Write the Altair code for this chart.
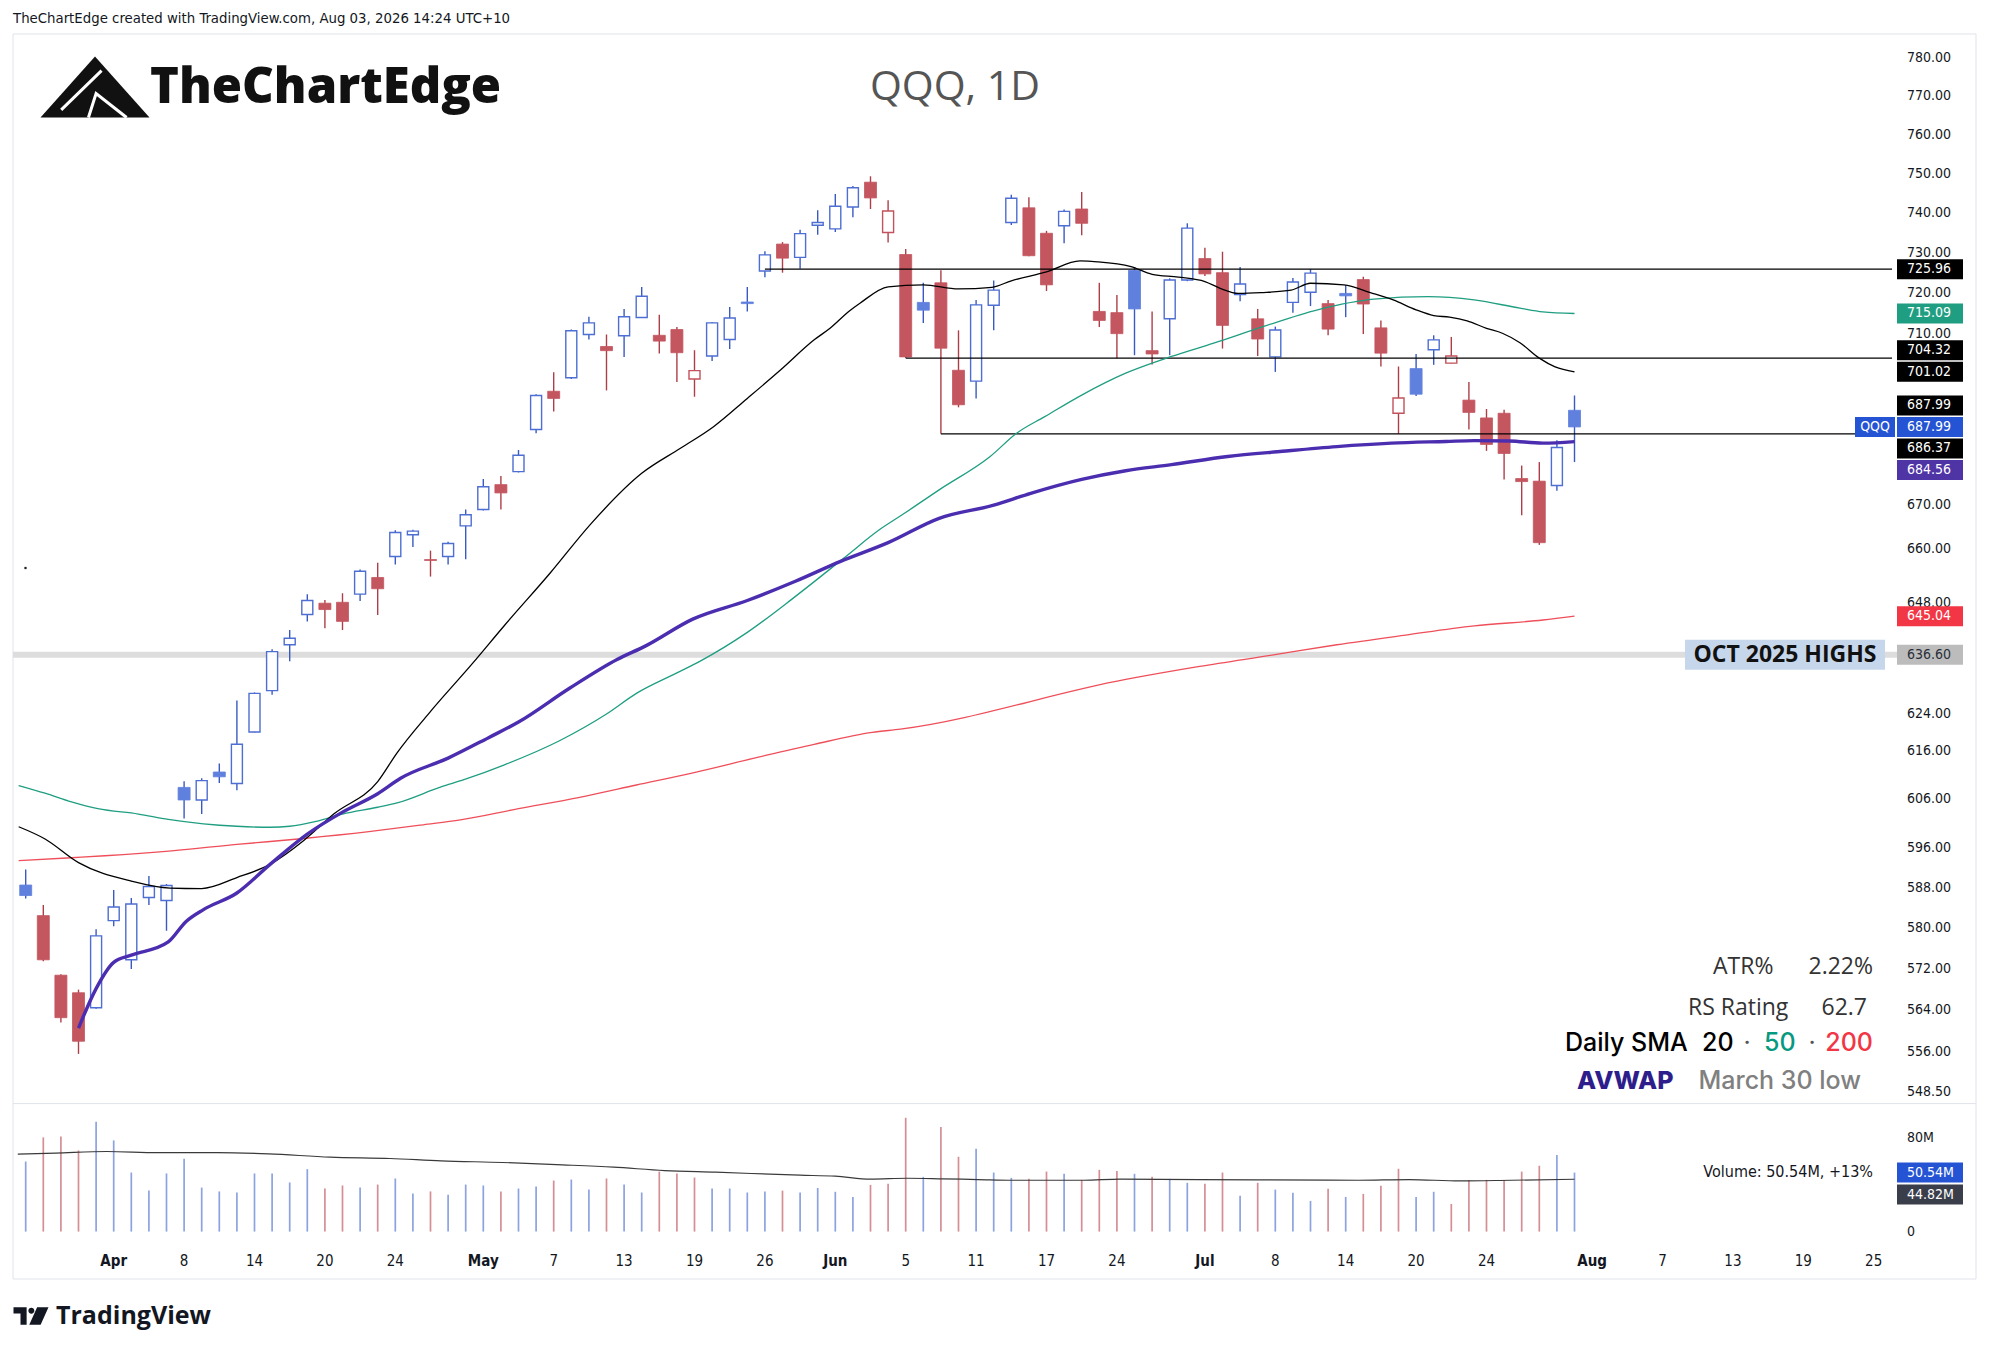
import math
import altair as alt
import pandas as pd

# ---------------------------------------------------------------- data
# daily bars, index 0 = Mar 25 2026 ... 88 = Jul 31 2026 (trading days)
opens = [588.6, 582.5, 570.8, 567.4, 564.5, 581.5, 573.8, 586.1, 585.5, 608.5,
         605.9, 611.7, 609.3, 620.1, 628.9, 638.8, 645.4, 647.9, 648.1, 649.9,
         653.6, 658.3, 663.2, 657.6, 658.3, 665.2, 668.9, 674.6, 677.6, 687.4,
         696.4, 699.6, 710.0, 707.1, 709.7, 714.1, 709.8, 711.2, 699.3, 704.8,
         708.8, 717.9, 725.5, 732.2, 728.9, 736.9, 736.0, 741.5, 747.8, 735.1,
         729.6, 717.8, 722.6, 701.4, 698.8, 717.1, 737.6, 741.3, 734.9, 736.8,
         741.0, 715.6, 715.3, 725.7, 706.1, 713.8, 723.3, 728.6, 725.1, 719.7,
         713.8, 704.6, 717.8, 720.3, 717.5, 720.0, 723.4, 711.6, 691.2, 701.8,
         706.3, 703.1, 694.3, 690.1, 691.2, 676.0, 675.4, 674.4, 691.9]
highs = [591.7, 584.6, 571.0, 568.0, 579.8, 587.6, 586.0, 590.4, 588.8, 609.8,
         610.4, 613.5, 626.8, 628.5, 637.8, 642.0, 649.9, 648.6, 650.1, 655.4,
         656.9, 664.2, 664.3, 659.6, 661.6, 668.9, 675.9, 676.6, 682.6, 695.7,
         700.9, 711.2, 714.3, 710.0, 716.2, 721.6, 714.8, 711.8, 706.2, 713.0,
         716.7, 721.6, 730.4, 732.7, 735.8, 740.7, 744.8, 746.8, 749.3, 743.2,
         731.0, 722.6, 725.7, 711.0, 718.4, 723.2, 744.6, 744.0, 735.5, 740.9,
         745.3, 722.6, 719.6, 726.5, 715.6, 723.7, 737.4, 731.3, 730.3, 726.5,
         716.2, 711.9, 723.8, 726.0, 718.4, 722.0, 724.1, 713.4, 702.3, 705.3,
         709.8, 709.4, 698.6, 692.2, 692.0, 679.0, 679.8, 684.9, 695.4]
lows = [585.9, 573.5, 561.7, 555.7, 564.3, 580.4, 572.0, 584.6, 579.5, 602.1,
        603.0, 609.4, 607.9, 620.0, 628.0, 635.2, 643.9, 642.4, 642.0, 648.4,
        645.3, 656.5, 660.4, 653.8, 656.5, 657.7, 668.7, 668.9, 677.4, 686.5,
        691.6, 699.3, 708.8, 696.6, 704.6, 714.0, 705.4, 698.6, 695.1, 703.6,
        706.5, 715.6, 724.0, 725.1, 726.1, 734.5, 735.2, 738.9, 741.0, 732.6,
        704.32, 712.8, 686.37, 692.6, 694.7, 711.0, 737.0, 729.2, 720.6, 732.4,
        734.4, 711.8, 704.3, 705.0, 702.8, 705.0, 723.0, 724.3, 706.6, 718.1,
        704.8, 701.0, 715.3, 716.9, 709.8, 714.2, 710.1, 702.3, 686.4, 695.3,
        702.7, 703.0, 687.4, 682.4, 675.8, 667.6, 660.9, 673.2, 679.8]
closes = [586.5, 573.8, 562.6, 558.1, 578.5, 584.2, 584.8, 588.3, 588.5, 605.9,
          609.9, 610.7, 617.5, 628.3, 637.3, 640.2, 648.5, 646.5, 643.9, 655.0,
          651.1, 663.7, 664.0, 657.4, 661.2, 667.7, 674.1, 672.7, 681.4, 695.4,
          694.7, 710.9, 712.8, 706.1, 714.3, 719.3, 708.4, 705.6, 701.3, 712.8,
          714.0, 717.5, 729.5, 728.7, 734.8, 737.6, 741.7, 746.4, 743.8, 740.5,
          704.6, 715.9, 706.7, 693.2, 717.2, 720.8, 743.7, 729.3, 722.1, 740.4,
          737.4, 713.4, 710.2, 716.2, 705.3, 723.3, 736.2, 724.8, 712.2, 722.3,
          708.9, 711.1, 722.8, 725.0, 711.3, 719.4, 717.4, 705.5, 694.8, 695.7,
          708.7, 704.8, 691.4, 683.9, 681.8, 675.3, 661.4, 683.2, 687.99]
close_before_first = 584.0
volumes = [60.0, 80.7, 81.4, 69.5, 94.1, 78.1, 50.6, 35.1, 49.8, 62.3,
           37.7, 34.4, 33.5, 49.8, 49.8, 42.1, 53.5, 36.9, 39.5, 37.7,
           40.3, 45.5, 32.6, 34.4, 31.5, 40.3, 39.5, 34.4, 36.9, 38.6,
           43.7, 44.6, 36.0, 45.5, 40.3, 33.5, 51.4, 49.8, 46.3, 36.9,
           36.9, 33.5, 34.4, 35.1, 33.5, 37.4, 34.1, 29.7, 40.0, 40.9,
           97.5, 46.9, 89.7, 64.1, 70.9, 50.6, 46.0, 45.2, 51.4, 49.5,
           44.3, 52.9, 52.0, 49.5, 46.9, 45.2, 41.8, 40.9, 50.6, 30.6,
           41.8, 36.0, 33.2, 26.3, 36.6, 29.7, 32.3, 39.2, 53.8, 29.7,
           34.1, 23.7, 44.3, 44.3, 44.3, 51.4, 56.4, 65.7, 50.54]

sma20_idx = [-0.4, 1.1, 3.0, 6.0, 8.2, 10.0, 12.0, 13.9, 15.8, 17.5, 20.0, 21.1, 22.9,
             25.4, 27.2, 29.8, 32.1, 35.0, 37.2, 39.1, 41.0, 42.9, 44.8, 45.7, 46.8,
             47.4, 49.0, 51.0, 53.0, 54.9, 56.0, 58.0, 59.9, 60.9, 62.8, 64.0, 65.5,
             67.0, 67.9, 68.9, 70.2, 71.9, 73.0, 74.9, 76.4, 77.7, 79.0, 80.0, 80.9,
             81.9, 83.0, 83.9, 84.9, 86.0, 86.9, 88.0]
sma20_val = [600.4, 597.9, 593.1, 589.4, 588.0, 587.9, 590.1, 592.8, 597.6, 603.0, 609.7,
             615.7, 624.0, 634.8, 643.0, 654.6, 665.6, 677.2, 683.0, 688.1, 694.7, 701.5,
             708.7, 711.5, 715.7, 717.6, 721.6, 722.1, 721.1, 721.5, 723.1, 725.3, 728.0,
             727.8, 726.6, 724.7, 724.0, 722.9, 721.2, 720.0, 720.2, 720.8, 722.5, 722.1,
             720.2, 718.4, 716.0, 714.6, 714.2, 713.3, 711.5, 710.3, 708.0, 704.3, 702.2,
             701.02]
sma50_idx = [-0.4, 1.1, 2.6, 4.1, 6.4, 8.1, 10.1, 12.0, 13.9, 15.0, 16.5, 18.0, 20.0,
             21.1, 23.6, 24.9, 27.2, 30.3, 33.0, 34.7, 37.0, 38.3, 41.0, 43.7, 46.6,
             48.5, 49.8, 51.9, 54.8, 56.3, 57.9, 60.0, 62.5, 65.1, 67.5, 70.3, 73.4,
             76.6, 79.7, 82.3, 84.9, 86.2, 88.0]
sma50_val = [608.9, 607.3, 605.5, 604.1, 603.0, 601.9, 601.0, 600.5, 600.3, 600.5, 601.5,
             603.0, 604.4, 605.3, 608.6, 610.1, 613.2, 618.2, 623.9, 628.3, 632.7, 635.2,
             641.5, 649.3, 658.3, 664.3, 667.7, 673.4, 681.1, 686.5, 690.4, 695.5, 700.7,
             704.7, 707.9, 711.9, 716.0, 718.6, 719.2, 718.4, 716.4, 715.5, 715.09]
sma200_idx = [-0.4, 2.6, 4.5, 8.3, 12.0, 15.8, 19.5, 22.6, 24.7, 28.0, 31.4, 34.7, 38.1,
              41.4, 44.8, 48.1, 49.7, 62.5, 66.7, 70.9, 74.5, 78.4, 82.3, 86.2, 88.0]
sma200_val = [593.5, 594.1, 594.5, 595.5, 596.8, 598.0, 599.4, 600.8, 601.8, 604.1, 606.4,
              609.0, 611.7, 614.6, 617.5, 620.0, 620.7, 631.3, 634.1, 636.6, 638.8, 640.9,
              642.9, 644.2, 645.04]
avwap_idx = [3.0, 4.0, 5.0, 6.0, 8.1, 9.1, 10.1, 12.0, 13.9, 16.0, 18.0, 20.0, 21.3, 24.0,
             26.3, 28.0, 30.9, 33.6, 35.2, 37.9, 41.0, 43.7, 46.3, 49.0, 51.9, 55.0, 57.1,
             60.0, 62.5, 65.1, 68.3, 71.4, 74.5, 77.6, 80.7, 82.3, 84.3, 86.2, 88.0]
avwap_val = [560.6, 568.2, 573.3, 574.7, 577.3, 581.3, 583.7, 587.0, 592.8, 598.9, 603.4,
             607.2, 610.4, 614.6, 618.9, 622.2, 629.4, 635.6, 638.5, 644.4, 648.5, 652.7,
             657.2, 661.4, 666.9, 669.9, 672.6, 675.8, 677.8, 679.2, 681.1, 682.3, 683.4,
             684.2, 684.6, 684.8, 684.7, 684.2, 684.56]
volma_idx = [-0.45, 1.7, 4.6, 7.5, 10.9, 13.8, 17.3, 20.7, 23.6, 27.1, 30.5, 33.4, 36.3,
             39.2, 44.0, 46.0, 48.0, 50.1, 52.1, 54.1, 56.1, 60.1, 62.2, 69.9, 75.7, 78.6,
             81.5, 84.4, 88.0]
volma_val = [66.3, 67.2, 68.6, 67.7, 67.7, 66.6, 63.8, 62.6, 60.6, 59.2, 57.2, 55.2, 52.3,
             50.9, 48.3, 47.5, 44.9, 45.7, 45.2, 44.6, 44.0, 44.0, 44.9, 44.3, 44.0, 44.6,
             43.4, 44.0, 44.82]

ray_levels = [725.96, 704.32, 686.37]
ray_start = [42, 50, 52]
oct_high = 636.60

x_tick_idx = [5, 9, 13, 17, 21, 26, 30, 34, 38, 42, 46, 50, 54, 58, 62, 67, 71, 75, 79, 83,
              89, 93, 97, 101, 105]
x_tick_text = ["Apr", "8", "14", "20", "24", "May", "7", "13", "19", "26", "Jun", "5", "11",
               "17", "24", "Jul", "8", "14", "20", "24", "Aug", "7", "13", "19", "25"]
months = ["Apr", "May", "Jun", "Jul", "Aug"]
price_ticks = [780, 770, 760, 750, 740, 730, 720, 710, 670, 660, 648, 624, 616, 606, 596,
               588, 580, 572, 564, 556, 548.5]

badge_values = [725.96, 715.09, 704.32, 701.02, 687.99, 687.99, 686.37, 684.56, 645.04, 636.60]
badge_kinds = ["level", "sma50", "level", "sma20", "last", "price", "level", "avwap",
               "sma200", "oct"]
vol_badge_values = [50.54, 44.82]
vol_badge_text = ["50.54M", "44.82M"]

# ---------------------------------------------------------------- styles
AXF = "DejaVu Sans Condensed, Liberation Sans Narrow, DejaVu Sans, sans-serif"
TXT = "#131722"
BLUE_FILL, BLUE_LINE, BLUE_WICK = "#6080de", "#4d6ed2", "#3a5ac2"
RED_FILL, RED_LINE, RED_WICK = "#c4565f", "#c2525b", "#ae3f48"
VOL_BLUE, VOL_RED = "#8ca3e0", "#d48e94"
BADGE_BG = {"level": "#000000", "sma50": "#1f9e82", "sma20": "#000000", "last": "#000000",
            "price": "#2453d4", "avwap": "#4f34a6", "sma200": "#f23645", "oct": "#bcbcbc"}
BADGE_FG = {"oct": "#2a2e39"}

W, H = 1975, 1337
PX0, PX_STEP = 12.7, 17.70
Y_TOP, Y_BOT = 50.4, 1084.2
Y_DOM = [548.5, 780.0]
V0, V80 = 1223.6, 1130.2
RIGHT = 1884

xs = alt.Scale(domain=[0, 100], range=[PX0, PX0 + 100 * PX_STEP], nice=False, zero=False)
ys = alt.Scale(type="log", domain=Y_DOM, range=[Y_BOT, Y_TOP], nice=False)
vs = alt.Scale(domain=[0, 80], range=[V0, V80], nice=False, zero=False)

one = pd.DataFrame({"a": [0]})


def txt(s, x, y, size, color=TXT, weight="normal", align="left", font=AXF):
    return alt.Chart(one).mark_text(text=s, fontSize=size, color=color, fontWeight=weight,
                                    align=align, baseline="middle", font=font).encode(
        x=alt.value(x), y=alt.value(y))


def cond(a, b):
    return alt.condition("datum.up", alt.value(a), alt.value(b))


# ---------------------------------------------------------------- tables
rows = []
prev = close_before_first
for i, (o, h, l, c) in enumerate(zip(opens, highs, lows, closes)):
    rows.append(dict(i=i, o=o, h=h, l=l, c=c, top=max(o, c), bot=min(o, c),
                     up=bool(c >= prev), hollow=bool(c > o), vol=volumes[i], zero=0))
    prev = c
bars = pd.DataFrame(rows)

X = alt.X("i:Q", scale=xs, axis=None)
base = alt.Chart(bars)

layers = []

# frame and pane separator
layers.append(alt.Chart(one).mark_rect(fillOpacity=0, stroke="#e0e3eb", strokeWidth=1).encode(
    x=alt.value(5), x2=alt.value(1968), y=alt.value(26), y2=alt.value(1271)))
layers.append(alt.Chart(one).mark_rule(color="#e0e3eb", strokeWidth=1).encode(
    x=alt.value(5), x2=alt.value(1968), y=alt.value(1095.6)))

# Oct 2025 highs band
oct_df = pd.DataFrame({"v": [oct_high]})
layers.append(alt.Chart(oct_df).mark_rule(color="#dddddd", strokeWidth=6).encode(
    x=alt.value(5), x2=alt.value(1889), y=alt.Y("v:Q", scale=ys, axis=None)))

# tiny stray dot present in the original screenshot
layers.append(alt.Chart(one).mark_point(shape="square", size=5, filled=True, opacity=1,
                                        color="#222222", strokeWidth=0).encode(
    x=alt.value(17.5), y=alt.value(560)))


def line(idx, val, color, width, scale=ys):
    df = pd.DataFrame({"i": idx, "v": val})
    return alt.Chart(df).mark_line(color=color, strokeWidth=width, interpolate="monotone").encode(
        x=X, y=alt.Y("v:Q", scale=scale, axis=None))


# candles
layers.append(base.mark_rule(strokeWidth=1.4).encode(
    x=X, y=alt.Y("l:Q", scale=ys, axis=None), y2="h:Q", color=cond(BLUE_WICK, RED_WICK)))
layers.append(base.transform_filter("!datum.hollow").mark_bar(size=12, strokeWidth=0.8).encode(
    x=X, y=alt.Y("top:Q", scale=ys, axis=None), y2="bot:Q",
    fill=cond(BLUE_FILL, RED_FILL), stroke=cond(BLUE_FILL, RED_FILL)))
layers.append(base.transform_filter("datum.hollow").mark_bar(size=11, fill="white", strokeWidth=1.4).encode(
    x=X, y=alt.Y("top:Q", scale=ys, axis=None), y2="bot:Q", stroke=cond(BLUE_LINE, RED_LINE)))

# horizontal rays (drawn over the candles, as in the original)
rays = pd.DataFrame({"level": ray_levels, "start": ray_start})
layers.append(alt.Chart(rays).mark_rule(color="#000000", strokeWidth=1.2).encode(
    x=alt.X("start:Q", scale=xs, axis=None), x2=alt.value(RIGHT),
    y=alt.Y("level:Q", scale=ys, axis=None)))

# moving averages and AVWAP on top
layers.append(line(sma200_idx, sma200_val, "#ef4f5a", 1.3))
layers.append(line(sma50_idx, sma50_val, "#1f9e82", 1.3))
layers.append(line(sma20_idx, sma20_val, "#000000", 1.3))
layers.append(line(avwap_idx, avwap_val, "#4b2db0", 3.4))

# volume
layers.append(base.mark_rule(strokeWidth=1.7).encode(
    x=X, y=alt.Y("vol:Q", scale=vs, axis=None), y2="zero:Q", color=cond(VOL_BLUE, VOL_RED)))
layers.append(line(volma_idx, volma_val, "#3a3a3a", 1.2, scale=vs))

# price axis labels
pt = pd.DataFrame({"p": price_ticks})
layers.append(alt.Chart(pt).mark_text(align="left", baseline="middle", font=AXF, fontSize=14,
                                      color=TXT).encode(
    x=alt.value(1899), y=alt.Y("p:Q", scale=ys, axis=None), text=alt.Text("p:Q", format=".2f")))

# x axis labels
xt = pd.DataFrame({"i": x_tick_idx, "t": x_tick_text})
xt["month"] = xt["t"].isin(months)
for flag, wt in [(True, "bold"), (False, "normal")]:
    layers.append(alt.Chart(xt[xt["month"] == flag]).mark_text(
        align="center", baseline="middle", font=AXF, fontSize=15, color=TXT, fontWeight=wt).encode(
        x=X, y=alt.value(1253), text="t:N"))

# volume axis labels
vt = pd.DataFrame({"v": [80, 0], "t": ["80M", "0"]})
layers.append(alt.Chart(vt).mark_text(align="left", baseline="middle", font=AXF, fontSize=14,
                                      color=TXT).encode(
    x=alt.value(1899), y=alt.Y("v:Q", scale=vs, axis=None), text="t:N"))

# price badges (de-overlapped around the last price)
GAP = 21.5
ppl = (Y_BOT - Y_TOP) / math.log(Y_DOM[1] / Y_DOM[0])
pix = [Y_TOP + ppl * math.log(Y_DOM[1] / v) for v in badge_values]
pos = pix[:]
m = badge_kinds.index("price")
for k in range(m - 1, -1, -1):
    pos[k] = min(pix[k], pos[k + 1] - GAP)
for k in range(m + 1, len(pos)):
    pos[k] = max(pix[k], pos[k - 1] + GAP)
bdf = pd.DataFrame({
    "y": [Y_DOM[1] * math.exp(-(p - Y_TOP) / ppl) for p in pos],
    "t": [f"{v:.2f}" for v in badge_values],
    "bg": [BADGE_BG[k] for k in badge_kinds],
    "fg": [BADGE_FG.get(k, "#ffffff") for k in badge_kinds],
})
BADGE = "M -1 -0.303 L 1 -0.303 L 1 0.303 L -1 0.303 Z"
layers.append(alt.Chart(bdf).mark_point(shape=BADGE, size=66 * 66, filled=True, opacity=1,
                                        strokeWidth=0).encode(
    x=alt.value(1922), y=alt.Y("y:Q", scale=ys, axis=None), fill=alt.Fill("bg:N", scale=None)))
layers.append(alt.Chart(bdf).mark_text(align="left", baseline="middle", font=AXF, fontSize=14).encode(
    x=alt.value(1899), y=alt.Y("y:Q", scale=ys, axis=None), text="t:N",
    color=alt.Color("fg:N", scale=None)))
qdf = bdf.iloc[[m]]
layers.append(alt.Chart(qdf).mark_point(shape="M -1 -0.5 L 1 -0.5 L 1 0.5 L -1 0.5 Z", size=1600,
                                        filled=True, opacity=1, strokeWidth=0, color="#2453d4").encode(
    x=alt.value(1867), y=alt.Y("y:Q", scale=ys, axis=None)))
layers.append(alt.Chart(qdf).mark_text(text="QQQ", align="center", baseline="middle", font=AXF,
                                       fontSize=14, color="white").encode(
    x=alt.value(1867), y=alt.Y("y:Q", scale=ys, axis=None)))

# volume badges
vpp = (V0 - V80) / 80.0
vpix = [V0 - v * vpp for v in vol_badge_values]
vpos = [vpix[0], max(vpix[1], vpix[0] + 22)]
vbdf = pd.DataFrame({"y": [(V0 - p) / vpp for p in vpos], "t": vol_badge_text,
                     "bg": ["#2453d4", "#3a3e4a"]})
layers.append(alt.Chart(vbdf).mark_point(shape=BADGE, size=66 * 66, filled=True, opacity=1,
                                         strokeWidth=0).encode(
    x=alt.value(1922), y=alt.Y("y:Q", scale=vs, axis=None), fill=alt.Fill("bg:N", scale=None)))
layers.append(alt.Chart(vbdf).mark_text(align="left", baseline="middle", font=AXF, fontSize=14,
                                        color="white").encode(
    x=alt.value(1899), y=alt.Y("y:Q", scale=vs, axis=None), text="t:N"))

# Oct 2025 highs label
layers.append(alt.Chart(oct_df).mark_point(shape="M -1 -0.15 L 1 -0.15 L 1 0.15 L -1 0.15 Z",
                                           size=200 * 200, filled=True, opacity=1, strokeWidth=0,
                                           color="#c7d7eb").encode(
    x=alt.value(1777), y=alt.Y("v:Q", scale=ys, axis=None)))
layers.append(alt.Chart(oct_df).mark_text(text="OCT 2025 HIGHS", align="center", baseline="middle",
                                          font="Open Sans", fontSize=23, fontWeight="bold",
                                          color="#111111").encode(
    x=alt.value(1777), y=alt.Y("v:Q", scale=ys, axis=None)))

# header / watermark / logos
layers.append(txt("TheChartEdge created with TradingView.com, Aug 03, 2026 14:24 UTC+10", 5, 11, 14.8))
ICON = "M -1 0.56 L 0.0 -0.56 L 1 0.56 Z"
layers.append(alt.Chart(one).mark_point(shape=ICON, size=109 * 109, filled=True, opacity=1,
                                        color="#111111", strokeWidth=0).encode(
    x=alt.value(87), y=alt.value(79)))
ICON_CUT = "M -0.62 0.42 L 0.12 -0.3 M -0.12 0.56 L 0.02 0.12 L 0.58 0.56"
layers.append(alt.Chart(one).mark_point(shape=ICON_CUT, size=109 * 109, filled=False, opacity=1,
                                        color="white", strokeWidth=3).encode(
    x=alt.value(87), y=alt.value(79)))
layers.append(txt("TheChartEdge", 142, 80, 49, color="#111111", weight=800, font="Open Sans"))
layers.append(txt("QQQ, 1D", 947, 80, 41, color="#555555", font="Open Sans", align="center"))

TV = ("M -1 -0.5 L -0.25 -0.5 L -0.25 0.5 L -0.6 0.5 L -0.6 -0.15 L -1 -0.15 Z "
      "M 0.35 -0.5 L 1 -0.5 L 0.55 0.5 L -0.1 0.5 Z "
      "M -0.15 -0.3 A 0.17 0.17 0 1 0 0.19 -0.3 A 0.17 0.17 0 1 0 -0.15 -0.3 Z")
layers.append(alt.Chart(one).mark_point(shape=TV, size=35 * 35, filled=True, opacity=1,
                                        color="#131722", strokeWidth=0).encode(
    x=alt.value(23), y=alt.value(1308)))
layers.append(txt("TradingView", 48, 1308, 25, color="#131722", weight="bold", font="Open Sans"))

# info block
INF = "Open Sans"
layers.append(txt("ATR%", 1705, 959, 23, color="#333333", font=INF))
layers.append(txt("2.22%", 1865, 959, 23, color="#333333", font=INF, align="right"))
layers.append(txt("RS Rating", 1680, 1000, 23, color="#333333", font=INF))
layers.append(txt("62.7", 1859, 1000, 23, color="#333333", font=INF, align="right"))
layers.append(txt("Daily SMA", 1557, 1035, 25, color="#000000", weight=500, font="Inter"))
layers.append(txt("20", 1694, 1035, 25, color="#000000", weight=500, font="Inter"))
layers.append(txt("·", 1739, 1035, 25, color="#555555", font="Inter", align="center"))
layers.append(txt("50", 1756, 1035, 25, color="#089981", weight=500, font="Inter"))
layers.append(txt("·", 1804, 1035, 25, color="#555555", font="Inter", align="center"))
layers.append(txt("200", 1865, 1035, 25, color="#f23645", weight=500, font="Inter", align="right"))
layers.append(txt("AVWAP", 1569, 1073, 25, color="#2d1e8c", weight=800, font="Inter"))
layers.append(txt("March 30 low", 1853, 1073, 25, color="#808080", weight=500, font="Inter",
                  align="right"))
layers.append(txt("Volume: 50.54M, +13%", 1865, 1164, 16, color=TXT, align="right"))

chart = alt.layer(*layers).resolve_scale(y="independent").properties(
    width=W, height=H, autosize=alt.AutoSizeParams(type="none"), padding=0,
    background="white").configure_view(strokeWidth=0)

chart.save("out.html", embed_options={"renderer": "svg", "actions": False})
